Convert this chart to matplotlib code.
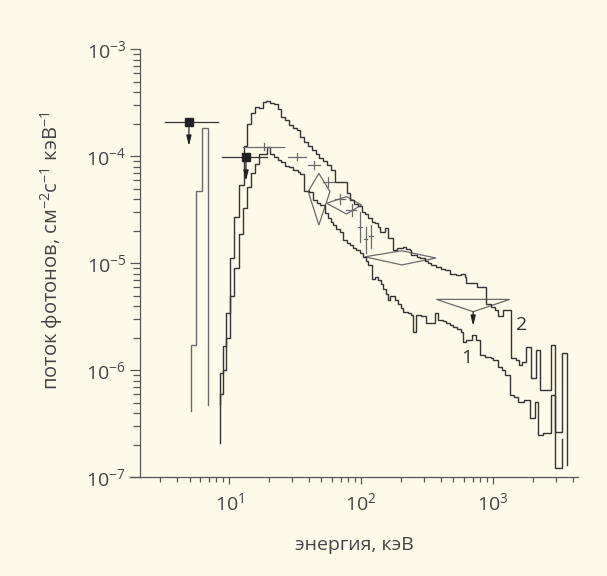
import matplotlib
matplotlib.use("Agg")
import matplotlib.pyplot as plt
from matplotlib.ticker import FixedLocator, LogFormatterMathtext, NullFormatter
from matplotlib.patches import Polygon

plt.rcParams['font.family'] = ['Open Sans', 'DejaVu Sans']
plt.rcParams['mathtext.fontset'] = 'custom'
plt.rcParams['mathtext.rm'] = 'Open Sans'
plt.rcParams['mathtext.it'] = 'Open Sans:italic'
plt.rcParams['mathtext.bf'] = 'Open Sans:bold'

# ---------------- data ----------------
# low-energy spike (keV edges, flux)
spike_edges = [5.1, 5.58, 6.21, 6.85]
spike_vals = [1.72e-6, 4.7e-5, 1.85e-4]
spike_floor = [4.15e-7, 4.7e-7]

# curve 2 (upper spectrum)
c2_edges = [8.5, 8.9, 9.5, 10.18, 10.91, 11.91, 12.85, 13.75, 14.7, 15.7, 16.8, 17.9, 19.1,
            20.4, 21.8, 23.3, 24.9, 26.6, 28.4, 30.3, 32.4, 34.6, 37.0, 39.5, 42.2, 45.1,
            48.2, 51.5, 55.0, 58.8, 63.0, 67.0, 71.5, 77.5, 83, 88, 94, 100.7, 107, 113,
            120, 127, 134.5, 138.6, 151, 160, 175, 186, 208, 220, 234, 240, 263, 279, 303,
            322, 341, 372, 405, 431, 475, 527, 575, 610, 628, 700, 760, 891, 960, 1030,
            1085, 1180, 1370, 1480, 1560, 1650, 1790, 1928, 2105, 2260, 2735, 2930, 3350, 3600]
c2_vals = [9.5e-7, 1.7e-6, 3.4e-6, 1.11e-5, 2.73e-5, 5.4e-5, 1.25e-4, 2.0e-4, 2.55e-4, 2.9e-4,
           2.8e-4, 3.2e-4, 3.3e-4, 3.15e-4, 3.05e-4, 2.75e-4, 2.35e-4, 2.2e-4, 1.95e-4, 1.85e-4,
           1.75e-4, 1.5e-4, 1.35e-4, 1.25e-4, 1.15e-4, 1.05e-4, 9.6e-5, 9.0e-5, 8.3e-5, 7.5e-5,
           5.8e-5, 5.7e-5, 5.7e-5, 4.5e-5, 3.9e-5, 3.6e-5, 3.4e-5, 3.0e-5, 2.9e-5, 2.63e-5,
           2.45e-5, 2.37e-5, 2.2e-5, 1.98e-5, 2.12e-5, 1.71e-5, 1.33e-5, 1.38e-5, 1.43e-5, 1.36e-5,
           1.33e-5, 1.2e-5, 1.15e-5, 1.11e-5, 1.04e-5, 1.0e-5, 9.6e-6, 9.2e-6, 8.9e-6, 8.6e-6,
           8.0e-6, 7.8e-6, 8.0e-6, 7.5e-6, 6.5e-6, 6.6e-6, 6.05e-6, 4.2e-6, 3.9e-6, 3.66e-6,
           3.2e-6, 3.66e-6, 1.3e-6, 1.25e-6, 1.12e-6, 1.2e-6, 1.66e-6, 8.4e-7, 1.55e-6, 6.5e-7,
           1.72e-6, 2.67e-7, 1.44e-6]
c2_floor = [4.8e-7, 1.3e-7]

# curve 1 (lower spectrum)
c1_edges = [8.5, 9.0, 9.5, 10.18, 10.91, 11.91, 12.77, 13.55, 14.52, 15.66, 16.87, 18.0, 19.2,
            20.5, 21.8, 23.3, 24.9, 26.6, 28.4, 30.3, 33, 34.5, 36.8, 40, 43.3, 46, 48.6, 53,
            56.2, 58.8, 61.4, 65, 69, 73, 77.5, 82, 87, 92, 97.5, 103.5, 108, 113, 120, 127,
            134.5, 141, 147, 155.6, 160, 165, 180, 190.6, 200, 208, 225, 240, 248, 262, 285,
            312, 335, 361, 380, 420, 443, 475, 498, 530, 575, 593, 628, 686, 748, 793, 870,
            960, 1000, 1092, 1160, 1225, 1336, 1450, 1549, 1720, 1897, 2070, 2193, 2400, 2767,
            2930, 3350]
c1_vals = [6.0e-7, 1.0e-6, 2.0e-6, 5.0e-6, 9.0e-6, 1.88e-5, 3.27e-5, 5.13e-5, 6.93e-5, 8.5e-5,
           1.05e-4, 1.05e-4, 1.23e-4, 1.05e-4, 9.9e-5, 9.2e-5, 8.9e-5, 8.2e-5, 7.9e-5, 7.4e-5,
           7.2e-5, 6.9e-5, 4.7e-5, 4.6e-5, 3.9e-5, 3.7e-5, 3.5e-5, 2.93e-5, 2.63e-5, 2.45e-5,
           2.28e-5, 2.1e-5, 1.98e-5, 1.65e-5, 1.55e-5, 1.48e-5, 1.4e-5, 1.33e-5, 1.25e-5, 1.15e-5,
           1.05e-5, 9.6e-6, 7.2e-6, 7.4e-6, 7.0e-6, 6.4e-6, 5.8e-6, 5.2e-6, 4.5e-6, 4.9e-6,
           4.5e-6, 4.2e-6, 3.8e-6, 3.5e-6, 3.4e-6, 3.3e-6, 2.3e-6, 3.3e-6, 3.2e-6, 2.75e-6,
           2.75e-6, 3.4e-6, 2.95e-6, 2.9e-6, 2.75e-6, 2.65e-6, 2.56e-6, 2.45e-6, 2.3e-6, 1.85e-6,
           1.92e-6, 2.14e-6, 1.92e-6, 1.39e-6, 1.33e-6, 1.3e-6, 1.25e-6, 1.08e-6, 1.0e-6, 9.0e-7,
           5.9e-7, 5.6e-7, 5.1e-7, 5.3e-7, 3.56e-7, 5.1e-7, 2.5e-7, 2.6e-7, 5.9e-7, 1.22e-7]
c1_floor = [2.1e-7, 2.3e-7]

# upper limits (squares): energy, flux, energy range, arrow tip
sq_E = [4.95, 13.4]
sq_F = [2.1e-4, 9.9e-5]
sq_Elo = [3.26, 8.85]
sq_Ehi = [8.2, 19.2]
sq_Ftip = [1.25e-4, 5.9e-5]

# crosses: energy, flux, energy range, flux range
cr_E = [18.3, 32.4, 43.9, 56.2, 69.0, 84.5, 97.7, 108, 119.7]
cr_F = [1.23e-4, 9.9e-5, 8.3e-5, 5.8e-5, 3.96e-5, 3.15e-5, 2.2e-5, 1.67e-5, 1.8e-5]
cr_Elo = [12.8, 28.0, 39.6, 51.5, 63.0, 77.0, 94.5, 105, 115]
cr_Ehi = [25.9, 37.9, 48.6, 62.0, 75.5, 92.0, 101, 111, 124]
cr_Flo = [1.15e-4, 9.2e-5, 7.6e-5, 5.2e-5, 3.55e-5, 2.75e-5, 1.59e-5, 1.24e-5, 1.4e-5]
cr_Fhi = [1.32e-4, 1.07e-4, 9.0e-5, 6.45e-5, 4.4e-5, 3.6e-5, 3.04e-5, 2.2e-5, 2.3e-5]

# diamonds: (left, top, right, bottom) vertices as (E, F)
dia_A = [(39.7, 4.68e-5), (47.8, 6.93e-5), (58.0, 4.68e-5), (47.8, 2.28e-5)]
dia_B = [(54.7, 3.64e-5), (77.5, 4.2e-5), (100.7, 3.51e-5), (77.5, 2.89e-5)]
dia_C = [(106.7, 1.15e-5), (203, 1.31e-5), (369, 1.12e-5), (203, 9.66e-6)]

# triangle upper limit
tri_E = [372, 1337, 706]
tri_F = [4.6e-6, 4.6e-6, 3.53e-6]
tri_tip = 2.6e-6

# curve labels
lab_text = ['1', '2']
lab_E = [628, 1641]
lab_F = [1.29e-6, 2.65e-6]

# ---------------- figure ----------------
bg = '#fefae9'
ink = '#333333'
gray = '#6a6a6a'
fig = plt.figure(figsize=(6.07, 5.76), dpi=100, facecolor=bg)
ax = fig.add_axes([130 / 607, 1 - 477.3 / 576, 448 / 607, 428 / 576])
ax.set_facecolor(bg)
ax.set_xscale('log')
ax.set_yscale('log')
ax.set_xlim(1.77, 4400)
ax.set_ylim(1e-7, 1e-3)


def step_line(edges, vals, floor):
    xs = [edges[0]]
    ys = [floor[0]]
    for i, v in enumerate(vals):
        xs += [edges[i], edges[i + 1]]
        ys += [v, v]
    xs.append(edges[-1])
    ys.append(floor[1])
    return xs, ys


for e, v, fl, col, lw in [(spike_edges, spike_vals, spike_floor, gray, 1.0),
                          (c1_edges, c1_vals, c1_floor, ink, 1.0),
                          (c2_edges, c2_vals, c2_floor, ink, 1.0)]:
    xs, ys = step_line(e, v, fl)
    ax.plot(xs, ys, color=col, lw=lw, solid_joinstyle='miter')

# crosses
for i in range(len(cr_E)):
    ax.plot([cr_Elo[i], cr_Ehi[i]], [cr_F[i], cr_F[i]], color=gray, lw=0.9)
    ax.plot([cr_E[i], cr_E[i]], [cr_Flo[i], cr_Fhi[i]], color=gray, lw=0.9)

# diamonds
for d in (dia_A, dia_B, dia_C):
    ax.add_patch(Polygon(d, closed=True, fill=False, edgecolor=gray, lw=0.9))

arrow_style = dict(arrowstyle='-|>,head_length=0.6,head_width=0.15', color='#222', lw=0.9,
                   shrinkA=0, shrinkB=0)

# triangle
ax.add_patch(Polygon(list(zip(tri_E, tri_F)), closed=True, fill=False, edgecolor=gray, lw=0.9))
ax.annotate('', xy=(tri_E[2], tri_tip), xytext=(tri_E[2], tri_F[2]), arrowprops=arrow_style)

# squares with arrows
for i in range(len(sq_E)):
    ax.plot([sq_Elo[i], sq_Ehi[i]], [sq_F[i], sq_F[i]], color='#333', lw=0.9)
    ax.annotate('', xy=(sq_E[i], sq_Ftip[i]), xytext=(sq_E[i], sq_F[i]), arrowprops=arrow_style)
    ax.plot(sq_E[i], sq_F[i], marker='s', ms=6, color='#222', mec='#222', zorder=5)

for t, e, f in zip(lab_text, lab_E, lab_F):
    ax.text(e, f, t, fontsize=14, color='#333', ha='center', va='center')

# axes styling
for s in ('top', 'right'):
    ax.spines[s].set_visible(False)
ax.spines['left'].set_position(('data', 2.11))
for s in ('left', 'bottom'):
    ax.spines[s].set_color('#555')
    ax.spines[s].set_linewidth(0.9)

ax.xaxis.set_major_locator(FixedLocator([10, 100, 1000]))
ax.xaxis.set_minor_locator(FixedLocator([3, 4, 5, 6, 7, 8, 9, 20, 30, 40, 50, 60, 70, 80, 90,
                                         200, 300, 400, 500, 600, 700, 800, 900, 2000, 3000, 4000]))
ax.xaxis.set_major_formatter(LogFormatterMathtext())
ax.xaxis.set_minor_formatter(NullFormatter())
ax.yaxis.set_major_formatter(LogFormatterMathtext())
ax.yaxis.set_minor_formatter(NullFormatter())

ax.tick_params(axis='both', which='both', direction='out', color='#555', width=0.9,
               labelsize=14, labelcolor='#444')
ax.tick_params(axis='y', which='major', length=7.2, pad=3)
ax.tick_params(axis='y', which='minor', length=4.8)
ax.tick_params(axis='x', which='major', length=5, pad=6)
ax.tick_params(axis='x', which='minor', length=3.6)

fig.text(354 / 607, 1 - 545 / 576, 'энергия, кэВ', ha='center', va='center', fontsize=14, color='#444')
fig.text(52 / 607, 1 - 251 / 576, 'поток фотонов, см$^{-2}$с$^{-1}$ кэВ$^{-1}$', ha='center',
         va='center', rotation=90, fontsize=14.5, color='#444')

fig.savefig('out.png', dpi=100, facecolor=bg)
